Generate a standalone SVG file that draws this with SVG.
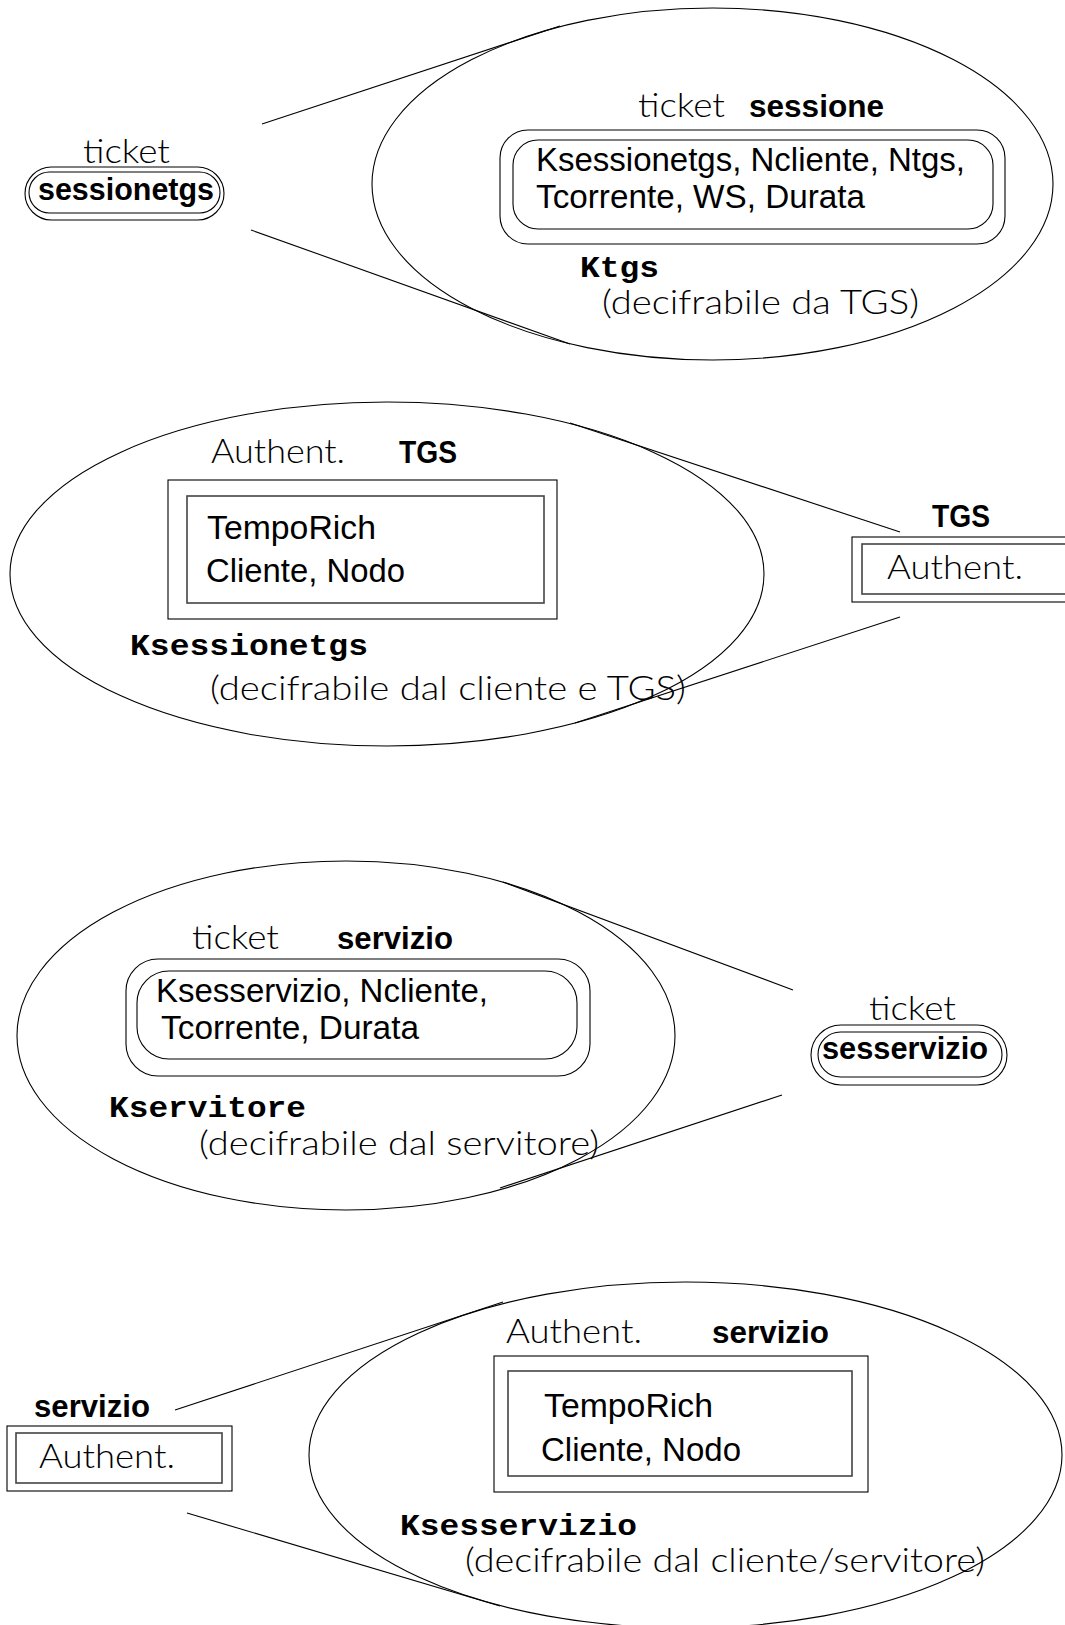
<svg xmlns="http://www.w3.org/2000/svg" width="1065" height="1625" viewBox="0 0 1065 1625">
  <style>
    .bg { fill: #ffffff; }
    .shape { fill: none; stroke: #000; stroke-width: 1.1; }
    .inner { fill: none; stroke: #444; stroke-width: 1.6; }
    .conn line { stroke: #000; stroke-width: 1.1; }
    text { fill: #000; }
    .ag { font-family: Lato, "Liberation Sans", sans-serif; font-weight: 300; font-size: 33px; }
    .hv { font-family: "Liberation Sans", Arial, sans-serif; font-size: 33px; }
    .hb { font-family: "Liberation Sans", Arial, sans-serif; font-weight: bold; font-size: 32px; }
    .cb { font-family: "Liberation Mono", "Courier New", monospace; font-weight: bold; font-size: 29px; }
  </style>
  <rect class="bg" x="0" y="0" width="1065" height="1625"/>

  <!-- connectors: small token to its expanded view -->
  <g id="connectors" class="conn">
    <line x1="262" y1="124" x2="560" y2="26"/>
    <line x1="251" y1="230" x2="570" y2="344"/>
    <line x1="570" y1="423" x2="900" y2="532"/>
    <line x1="900" y1="617" x2="575" y2="723"/>
    <line x1="503" y1="882" x2="793" y2="990"/>
    <line x1="782" y1="1095" x2="500" y2="1188"/>
    <line x1="175" y1="1410" x2="503" y2="1302"/>
    <line x1="187" y1="1513" x2="500" y2="1606"/>
  </g>

  <!-- ticket sessionetgs token -->
  <g id="ticket-sessionetgs">
    <text class="ag" x="83" y="163" textLength="87" lengthAdjust="spacingAndGlyphs">ticket</text>
    <rect class="shape" x="25" y="167" width="199" height="53" rx="26.5"/>
    <rect class="shape" x="29" y="172" width="191" height="41" rx="20.5"/>
    <text class="hb" x="38" y="200" textLength="176" lengthAdjust="spacingAndGlyphs">sessionetgs</text>
  </g>

  <!-- ticket sessione, encrypted with Ktgs -->
  <g id="ticket-sessione">
    <ellipse class="shape" cx="712.5" cy="184" rx="340.5" ry="176"/>
    <text class="ag" x="638" y="117" textLength="87" lengthAdjust="spacingAndGlyphs">ticket</text>
    <text class="hb" x="749" y="117" textLength="135" lengthAdjust="spacingAndGlyphs">sessione</text>
    <rect class="shape" x="500" y="130" width="505" height="114" rx="28"/>
    <rect class="shape" x="513" y="140" width="480" height="89" rx="25"/>
    <text class="hv" x="536" y="171" textLength="429" lengthAdjust="spacingAndGlyphs">Ksessionetgs, Ncliente, Ntgs,</text>
    <text class="hv" x="536" y="208" textLength="329" lengthAdjust="spacingAndGlyphs">Tcorrente, WS, Durata</text>
    <text class="cb" x="580" y="277" textLength="79" lengthAdjust="spacingAndGlyphs">Ktgs</text>
    <text class="ag" x="602" y="314" textLength="317" lengthAdjust="spacingAndGlyphs">(decifrabile da TGS)</text>
  </g>

  <!-- authenticator for TGS, encrypted with Ksessionetgs -->
  <g id="authent-tgs">
    <ellipse class="shape" cx="387" cy="574" rx="377" ry="172"/>
    <text class="ag" x="211" y="463" textLength="134" lengthAdjust="spacingAndGlyphs">Authent.</text>
    <text class="hb" x="399" y="463" textLength="58" lengthAdjust="spacingAndGlyphs">TGS</text>
    <rect class="shape" x="168" y="480" width="389" height="139"/>
    <rect class="inner" x="187" y="496" width="357" height="107"/>
    <text class="hv" x="207" y="539" textLength="169" lengthAdjust="spacingAndGlyphs">TempoRich</text>
    <text class="hv" x="206" y="582" textLength="199" lengthAdjust="spacingAndGlyphs">Cliente, Nodo</text>
    <text class="cb" x="130" y="655" textLength="238" lengthAdjust="spacingAndGlyphs">Ksessionetgs</text>
    <text class="ag" x="210" y="700" textLength="476" lengthAdjust="spacingAndGlyphs">(decifrabile dal cliente e TGS)</text>
  </g>

  <!-- TGS authenticator token -->
  <g id="token-authent-tgs">
    <text class="hb" x="932" y="527" textLength="58" lengthAdjust="spacingAndGlyphs">TGS</text>
    <rect class="shape" x="852" y="537" width="240" height="65"/>
    <rect class="inner" x="862" y="544" width="230" height="50"/>
    <text class="ag" x="887" y="579" textLength="136" lengthAdjust="spacingAndGlyphs">Authent.</text>
  </g>

  <!-- ticket servizio, encrypted with Kservitore -->
  <g id="ticket-servizio">
    <ellipse class="shape" cx="346" cy="1035.5" rx="329" ry="174.5"/>
    <text class="ag" x="192" y="949" textLength="87" lengthAdjust="spacingAndGlyphs">ticket</text>
    <text class="hb" x="337" y="949" textLength="116" lengthAdjust="spacingAndGlyphs">servizio</text>
    <rect class="shape" x="126" y="959" width="464" height="117" rx="32"/>
    <rect class="shape" x="137" y="971" width="440" height="88" rx="32"/>
    <text class="hv" x="156" y="1002" textLength="332" lengthAdjust="spacingAndGlyphs">Ksesservizio, Ncliente,</text>
    <text class="hv" x="161" y="1039" textLength="258" lengthAdjust="spacingAndGlyphs">Tcorrente, Durata</text>
    <text class="cb" x="109" y="1117" textLength="197" lengthAdjust="spacingAndGlyphs">Kservitore</text>
    <text class="ag" x="199" y="1155" textLength="400" lengthAdjust="spacingAndGlyphs">(decifrabile dal servitore)</text>
  </g>

  <!-- ticket sesservizio token -->
  <g id="ticket-sesservizio">
    <text class="ag" x="869" y="1020" textLength="87" lengthAdjust="spacingAndGlyphs">ticket</text>
    <rect class="shape" x="811" y="1025" width="196" height="60" rx="30"/>
    <rect class="shape" x="818" y="1032" width="184" height="45" rx="22.5"/>
    <text class="hb" x="822" y="1059" textLength="166" lengthAdjust="spacingAndGlyphs">sesservizio</text>
  </g>

  <!-- service authenticator token -->
  <g id="token-authent-servizio">
    <text class="hb" x="34" y="1417" textLength="116" lengthAdjust="spacingAndGlyphs">servizio</text>
    <rect class="shape" x="7" y="1426" width="225" height="65"/>
    <rect class="inner" x="16" y="1433" width="206" height="50"/>
    <text class="ag" x="39" y="1468" textLength="136" lengthAdjust="spacingAndGlyphs">Authent.</text>
  </g>

  <!-- authenticator for servizio, encrypted with Ksesservizio -->
  <g id="authent-servizio">
    <ellipse class="shape" cx="685.5" cy="1455" rx="376.5" ry="173"/>
    <text class="ag" x="506" y="1343" textLength="136" lengthAdjust="spacingAndGlyphs">Authent.</text>
    <text class="hb" x="712" y="1343" textLength="117" lengthAdjust="spacingAndGlyphs">servizio</text>
    <rect class="shape" x="494" y="1356" width="374" height="136"/>
    <rect class="inner" x="508" y="1371" width="344" height="105"/>
    <text class="hv" x="544" y="1417" textLength="169" lengthAdjust="spacingAndGlyphs">TempoRich</text>
    <text class="hv" x="541" y="1461" textLength="200" lengthAdjust="spacingAndGlyphs">Cliente, Nodo</text>
    <text class="cb" x="400" y="1535" textLength="237" lengthAdjust="spacingAndGlyphs">Ksesservizio</text>
    <text class="ag" x="465" y="1572" textLength="520" lengthAdjust="spacingAndGlyphs">(decifrabile dal cliente/servitore)</text>
  </g>
</svg>
